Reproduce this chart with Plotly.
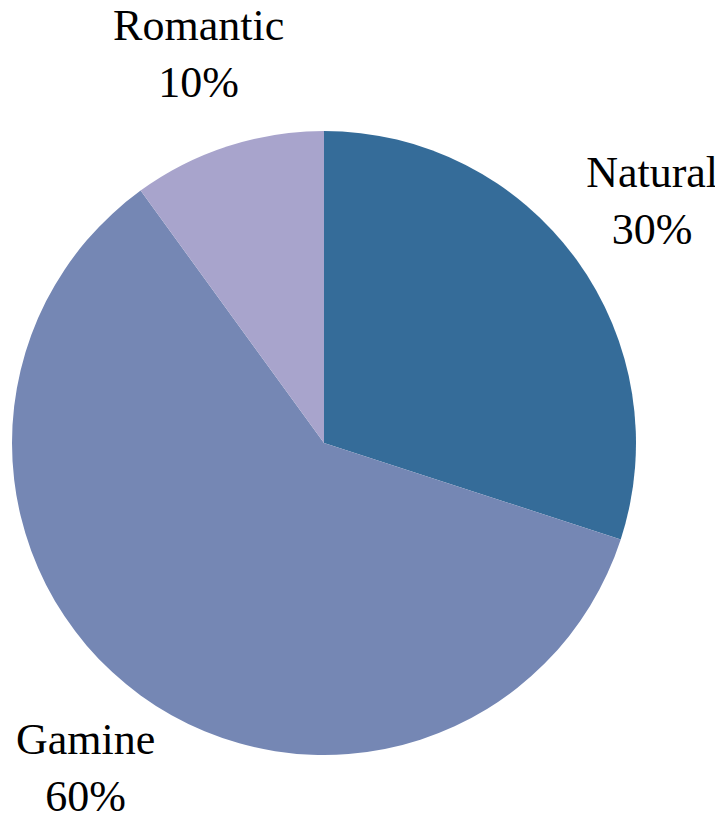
import numpy as np
import plotly.graph_objects as go

labels = ["Natural", "Gamine", "Romantic"]
values = [30, 60, 10]
colors = ["#356C99", "#7587B4", "#A8A4CC"]

FONT = "Liberation Serif"
W, H = 723, 825
CX, CY, R = 316, 435, 312      # pie centre and radius in figure pixels
LABEL_RADIUS = 1.3             # label centre distance, fraction of pie radius

vals = np.array(values, dtype=float)
frac = vals / vals.sum()
cum = np.concatenate([[0.0], np.cumsum(frac)])
mid = 2 * np.pi * (cum[:-1] + cum[1:]) / 2  # clockwise from 12 o'clock
lx = LABEL_RADIUS * np.sin(mid)
ly = LABEL_RADIUS * np.cos(mid)
texts = [f"{lab}<br>{round(f * 100)}%" for lab, f in zip(labels, frac)]

fig = go.Figure()
fig.add_trace(go.Pie(
    labels=labels,
    values=values,
    sort=False,
    direction="clockwise",
    rotation=0,
    automargin=False,
    domain=dict(x=[(CX - R) / W, (CX + R) / W],
                y=[1 - (CY + R) / H, 1 - (CY - R) / H]),
    marker=dict(colors=colors, line=dict(width=0)),
    textinfo="none",
    showlegend=False,
    hoverinfo="label+percent",
))
fig.add_trace(go.Scatter(
    x=lx, y=ly,
    mode="text",
    text=texts,
    textposition="middle center",
    textfont=dict(family=FONT, size=44, color="#000000"),
    cliponaxis=False,
    hoverinfo="skip",
    showlegend=False,
))
fig.update_layout(
    width=W, height=H,
    margin=dict(l=0, r=0, t=0, b=0, pad=0, autoexpand=False),
    paper_bgcolor="white",
    plot_bgcolor="rgba(0,0,0,0)",
    font=dict(family=FONT, size=44, color="#000000"),
    xaxis=dict(range=[-CX / R, (W - CX) / R], visible=False, fixedrange=True),
    yaxis=dict(range=[-(H - CY) / R, CY / R], visible=False, fixedrange=True),
)
fig.write_html("out.html")
